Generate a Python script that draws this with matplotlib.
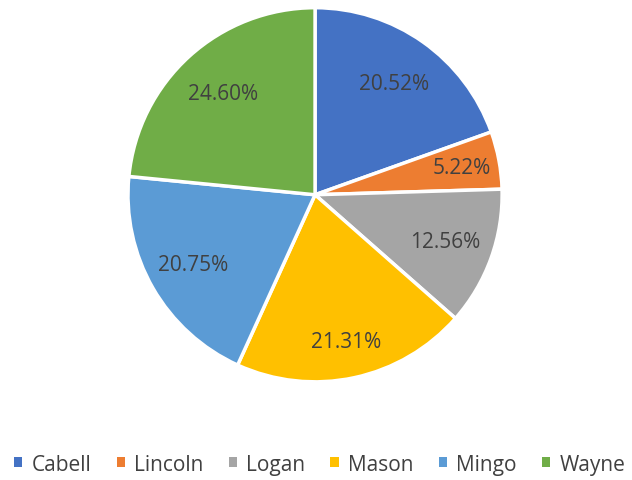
import numpy as np
import matplotlib.pyplot as plt
from matplotlib.patches import Patch

counties = ["Cabell", "Lincoln", "Logan", "Mason", "Mingo", "Wayne"]
shares = [20.52, 5.22, 12.56, 21.31, 20.75, 24.60]
colors = ["#4472C4", "#ED7D31", "#A5A5A5", "#FFC000", "#5B9BD5", "#70AD47"]
# how far out each percentage label sits (fraction of radius)
label_r = [0.73, 0.80, 0.74, 0.80, 0.75, 0.73]

plt.rcParams['font.family'] = ['Open Sans', 'DejaVu Sans']
text_col = "#404040"
fsize = 15

fig = plt.figure(figsize=(6.32, 4.81), dpi=100)
ax = fig.add_axes([0.2025, 0.204, 0.592, 0.778])

wedges, texts = ax.pie(shares, colors=colors, startangle=90, counterclock=False,
                       labels=[f"{v:.2f}%" for v in shares], labeldistance=0.75,
                       wedgeprops=dict(edgecolor="white", linewidth=2.5))
for w, t, r in zip(wedges, texts, label_r):
    mid = np.deg2rad((w.theta1 + w.theta2) / 2)
    t.set_position((r * np.cos(mid), r * np.sin(mid)))
    t.set_ha("center")
    t.set_va("center")
    t.set_color(text_col)
    t.set_fontsize(fsize)
ax.set_xlim(-1, 1)
ax.set_ylim(-1, 1)
ax.set_aspect("equal")

handles = [Patch(facecolor=c, edgecolor="none") for c in colors]
leg = fig.legend(handles, counties, loc="center", bbox_to_anchor=(0.506, 0.033), ncol=6,
                 frameon=False, fontsize=fsize, handlelength=0.4, handleheight=0.4,
                 handletextpad=0.45, columnspacing=1.2, borderaxespad=0, borderpad=0)
for t in leg.get_texts():
    t.set_color(text_col)

fig.savefig("out.png", dpi=100)
